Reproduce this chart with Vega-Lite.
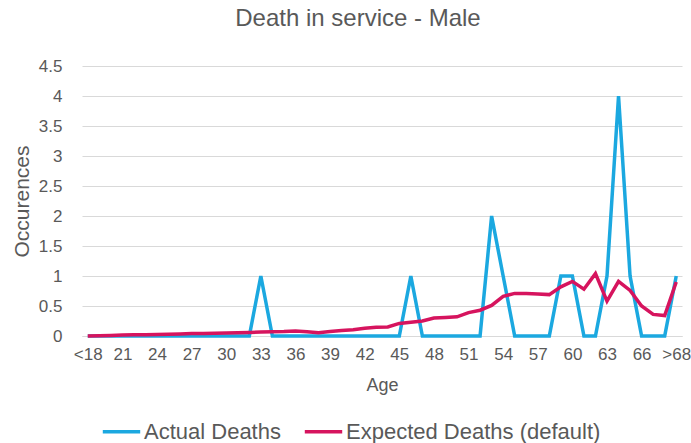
{
  "$schema": "https://vega.github.io/schema/vega-lite/v6.json",
  "autosize": {"type": "none"},
  "padding": {"left": 82, "top": 66, "right": 9, "bottom": 107},
  "width": 600,
  "height": 270,
  "background": "white",
  "config": {
    "view": {"stroke": null},
    "font": "Liberation Sans",
    "axis": {
      "labelFont": "Liberation Sans",
      "titleFont": "Liberation Sans",
      "labelColor": "#595959",
      "titleColor": "#595959",
      "titleFontWeight": "normal",
      "labelFontSize": 17,
      "titleFontSize": 19,
      "ticks": false
    },
    "legend": {
      "labelFont": "Liberation Sans",
      "labelColor": "#595959",
      "labelFontSize": 22,
      "labelLimit": 400
    }
  },
  "title": {
    "text": "Death in service - Male",
    "font": "Liberation Sans",
    "fontSize": 24,
    "fontWeight": "normal",
    "color": "#595959",
    "anchor": "middle",
    "offset": 26,
    "dx": -24
  },
  "data": {
    "values": [
      {"age": "<18", "Actual Deaths": 0, "Expected Deaths (default)": 0.0},
      {"age": "19", "Actual Deaths": 0, "Expected Deaths (default)": 0.005},
      {"age": "20", "Actual Deaths": 0, "Expected Deaths (default)": 0.01},
      {"age": "21", "Actual Deaths": 0, "Expected Deaths (default)": 0.015},
      {"age": "22", "Actual Deaths": 0, "Expected Deaths (default)": 0.02},
      {"age": "23", "Actual Deaths": 0, "Expected Deaths (default)": 0.02},
      {"age": "24", "Actual Deaths": 0, "Expected Deaths (default)": 0.025},
      {"age": "25", "Actual Deaths": 0, "Expected Deaths (default)": 0.03},
      {"age": "26", "Actual Deaths": 0, "Expected Deaths (default)": 0.035},
      {"age": "27", "Actual Deaths": 0, "Expected Deaths (default)": 0.04},
      {"age": "28", "Actual Deaths": 0, "Expected Deaths (default)": 0.04},
      {"age": "29", "Actual Deaths": 0, "Expected Deaths (default)": 0.045},
      {"age": "30", "Actual Deaths": 0, "Expected Deaths (default)": 0.05},
      {"age": "31", "Actual Deaths": 0, "Expected Deaths (default)": 0.055},
      {"age": "32", "Actual Deaths": 0, "Expected Deaths (default)": 0.06},
      {"age": "33", "Actual Deaths": 1, "Expected Deaths (default)": 0.065},
      {"age": "34", "Actual Deaths": 0, "Expected Deaths (default)": 0.07},
      {"age": "35", "Actual Deaths": 0, "Expected Deaths (default)": 0.075},
      {"age": "36", "Actual Deaths": 0, "Expected Deaths (default)": 0.085},
      {"age": "37", "Actual Deaths": 0, "Expected Deaths (default)": 0.07},
      {"age": "38", "Actual Deaths": 0, "Expected Deaths (default)": 0.055},
      {"age": "39", "Actual Deaths": 0, "Expected Deaths (default)": 0.075},
      {"age": "40", "Actual Deaths": 0, "Expected Deaths (default)": 0.09},
      {"age": "41", "Actual Deaths": 0, "Expected Deaths (default)": 0.105},
      {"age": "42", "Actual Deaths": 0, "Expected Deaths (default)": 0.13},
      {"age": "43", "Actual Deaths": 0, "Expected Deaths (default)": 0.145},
      {"age": "44", "Actual Deaths": 0, "Expected Deaths (default)": 0.15},
      {"age": "45", "Actual Deaths": 0, "Expected Deaths (default)": 0.21},
      {"age": "46", "Actual Deaths": 1, "Expected Deaths (default)": 0.23},
      {"age": "47", "Actual Deaths": 0, "Expected Deaths (default)": 0.25},
      {"age": "48", "Actual Deaths": 0, "Expected Deaths (default)": 0.30},
      {"age": "49", "Actual Deaths": 0, "Expected Deaths (default)": 0.31},
      {"age": "50", "Actual Deaths": 0, "Expected Deaths (default)": 0.32},
      {"age": "51", "Actual Deaths": 0, "Expected Deaths (default)": 0.39},
      {"age": "52", "Actual Deaths": 0, "Expected Deaths (default)": 0.43},
      {"age": "53", "Actual Deaths": 2, "Expected Deaths (default)": 0.51},
      {"age": "54", "Actual Deaths": 1, "Expected Deaths (default)": 0.66},
      {"age": "55", "Actual Deaths": 0, "Expected Deaths (default)": 0.71},
      {"age": "56", "Actual Deaths": 0, "Expected Deaths (default)": 0.71},
      {"age": "57", "Actual Deaths": 0, "Expected Deaths (default)": 0.70},
      {"age": "58", "Actual Deaths": 0, "Expected Deaths (default)": 0.69},
      {"age": "59", "Actual Deaths": 1, "Expected Deaths (default)": 0.82},
      {"age": "60", "Actual Deaths": 1, "Expected Deaths (default)": 0.91},
      {"age": "61", "Actual Deaths": 0, "Expected Deaths (default)": 0.78},
      {"age": "62", "Actual Deaths": 0, "Expected Deaths (default)": 1.04},
      {"age": "63", "Actual Deaths": 1, "Expected Deaths (default)": 0.58},
      {"age": "64", "Actual Deaths": 4, "Expected Deaths (default)": 0.91},
      {"age": "65", "Actual Deaths": 1, "Expected Deaths (default)": 0.76},
      {"age": "66", "Actual Deaths": 0, "Expected Deaths (default)": 0.50},
      {"age": "67", "Actual Deaths": 0, "Expected Deaths (default)": 0.36},
      {"age": "68", "Actual Deaths": 0, "Expected Deaths (default)": 0.34},
      {"age": ">68", "Actual Deaths": 1, "Expected Deaths (default)": 0.90}
    ]
  },
  "transform": [
    {"fold": ["Actual Deaths", "Expected Deaths (default)"], "as": ["series", "value"]}
  ],
  "mark": {"type": "line", "strokeWidth": 3.5},
  "encoding": {
    "x": {
      "field": "age",
      "type": "ordinal",
      "sort": null,
      "scale": {"type": "point", "padding": 0.5},
      "axis": {
        "title": "Age",
        "titleFontSize": 18,
        "values": ["<18", "21", "24", "27", "30", "33", "36", "39", "42", "45", "48", "51", "54", "57", "60", "63", "66", ">68"],
        "labelAngle": 0,
        "labelPadding": 10,
        "titlePadding": 14,
        "domain": true,
        "domainColor": "#D9D9D9",
        "domainWidth": 1,
        "grid": false
      }
    },
    "y": {
      "field": "value",
      "type": "quantitative",
      "scale": {"domain": [0, 4.5], "nice": false, "zero": true},
      "axis": {
        "title": "Occurences",
        "titleFontSize": 21,
        "values": [0, 0.5, 1, 1.5, 2, 2.5, 3, 3.5, 4, 4.5],
        "format": "~g",
        "domain": false,
        "grid": true,
        "gridColor": "#D9D9D9",
        "gridWidth": 1,
        "labelPadding": 20,
        "titlePadding": 6
      }
    },
    "color": {
      "field": "series",
      "type": "nominal",
      "scale": {
        "domain": ["Actual Deaths", "Expected Deaths (default)"],
        "range": ["#1BA8E0", "#D6145E"]
      },
      "legend": {
        "title": null,
        "orient": "none",
        "direction": "horizontal",
        "legendX": 19,
        "legendY": 345,
        "symbolType": "stroke",
        "symbolSize": 1400,
        "symbolStrokeWidth": 3.5,
        "labelOffset": 2,
        "columnPadding": 16
      }
    }
  }
}
